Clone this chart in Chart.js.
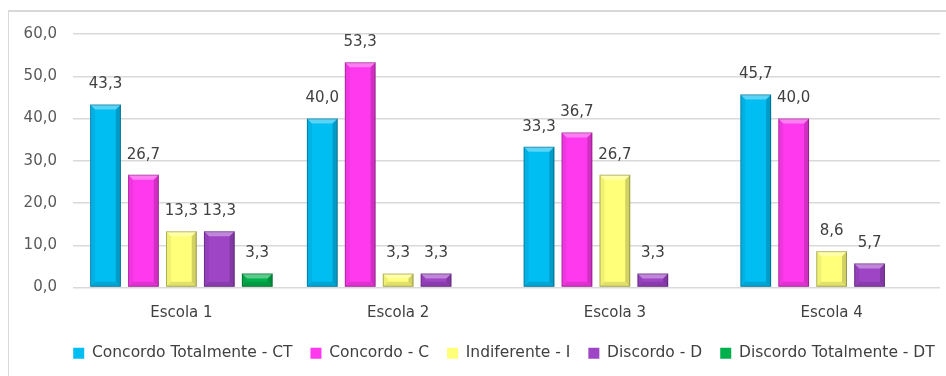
<!DOCTYPE html>
<html>
<head>
<meta charset="utf-8">
<script src="https://cdn.jsdelivr.net/npm/chart.js@4/dist/chart.umd.min.js"></script>
<style>
  html, body { margin: 0; padding: 0; background: #fff; }
  #wrap { position: relative; width: 946px; height: 376px; }
  #frame { position: absolute; left: 8px; top: 10px; right: 0; bottom: 0;
           border-left: 1px solid #d9d9d9; border-top: 2px solid #d9d9d9; }
  canvas { position: absolute; left: 0; top: 0; }
</style>
</head>
<body>
<div id="wrap">
  <div id="frame"></div>
  <canvas id="chart" width="946" height="376"></canvas>
</div>
<script>
const categories = ["Escola 1", "Escola 2", "Escola 3", "Escola 4"];
const seriesNames = [
    "Concordo Totalmente - CT",
    "Concordo - C",
    "Indiferente - I",
    "Discordo - D",
    "Discordo Totalmente - DT",
];
const concordoTotalmente = [43.3, 40.0, 33.3, 45.7];
const concordo = [26.7, 53.3, 36.7, 40.0];
const indiferente = [13.3, 3.3, 26.7, 8.6];
const discordo = [13.3, 3.3, 3.3, 5.7];
const discordoTotalmente = [3.3, null, null, null];
const yTicks = [0, 10, 20, 30, 40, 50, 60];

const colors = ["#00BDF2", "#FF3AEE", "#FFFF7A", "#9E45C6", "#00B04C"];
const FONT = "'DejaVu Sans', 'Open Sans', sans-serif";

const fmt = v => v.toFixed(1).replace(".", ",");

// bevel look + value labels, drawn over each bar element
const bevelPlugin = {
    id: "bevel",
    afterDatasetsDraw(chart) {
        const ctx = chart.ctx;
        chart.data.datasets.forEach((ds, i) => {
            const meta = chart.getDatasetMeta(i);
            meta.data.forEach((bar, j) => {
                const v = ds.data[j];
                if (v === null || v === undefined) return;
                const { x, y, base, width } = bar.getProps(["x", "y", "base", "width"], true);
                const l = x - width / 2, r = x + width / 2;
                const h = base - y;
                const b = Math.min(5, h / 2);
                ctx.save();
                // top bevel
                ctx.fillStyle = "rgba(255,255,255,0.35)";
                ctx.beginPath();
                ctx.moveTo(l, y); ctx.lineTo(r, y); ctx.lineTo(r - b, y + b); ctx.lineTo(l + b, y + b);
                ctx.closePath(); ctx.fill();
                // left edge
                ctx.fillStyle = "rgba(0,0,0,0.06)";
                ctx.beginPath();
                ctx.moveTo(l, y); ctx.lineTo(l + b, y + b); ctx.lineTo(l + b, base - b); ctx.lineTo(l, base);
                ctx.closePath(); ctx.fill();
                // right edge
                ctx.fillStyle = "rgba(0,0,0,0.18)";
                ctx.beginPath();
                ctx.moveTo(r, y); ctx.lineTo(r - b, y + b); ctx.lineTo(r - b, base - b); ctx.lineTo(r, base);
                ctx.closePath(); ctx.fill();
                // bottom edge
                ctx.fillStyle = "rgba(0,0,0,0.12)";
                ctx.beginPath();
                ctx.moveTo(l, base); ctx.lineTo(l + b, base - b); ctx.lineTo(r - b, base - b); ctx.lineTo(r, base);
                ctx.closePath(); ctx.fill();
                // outline
                ctx.strokeStyle = "rgba(0,0,0,0.28)";
                ctx.lineWidth = 1;
                ctx.strokeRect(l + 0.5, y + 0.5, width - 1, h - 1);
                // value label
                ctx.fillStyle = "#404040";
                ctx.font = "15px " + FONT;
                ctx.textAlign = "center";
                ctx.textBaseline = "middle";
                ctx.fillText(fmt(v), x, y - 20);
                ctx.restore();
            });
        });
    },
};

// the legend in the original sits a little right of centre and a bit higher
const legendShift = {
    id: "legendShift",
    afterLayout(chart) {
        if (chart.legend) {
            chart.legend.left += 34;
            chart.legend.right += 34;
            chart.legend.top -= 4;
            chart.legend.bottom -= 4;
        }
    },
};

const seriesValues = [concordoTotalmente, concordo, indiferente, discordo, discordoTotalmente];

new Chart(document.getElementById("chart").getContext("2d"), {
    type: "bar",
    data: {
        labels: categories,
        datasets: seriesValues.map((vals, i) => ({
            label: seriesNames[i],
            data: vals,
            backgroundColor: colors[i],
            borderWidth: 0,
            barPercentage: 0.81,
            categoryPercentage: 0.875,
        })),
    },
    options: {
        responsive: false,
        animation: false,
        devicePixelRatio: 1,
        layout: { padding: { left: 0, right: 6, top: 34, bottom: 1 } },
        plugins: {
            legend: {
                position: "bottom",
                labels: {
                    boxWidth: 11,
                    boxHeight: 11,
                    padding: 18,
                    color: "#404040",
                    font: { family: FONT, size: 15.5 },
                },
            },
            tooltip: { enabled: false },
        },
        scales: {
            x: {
                grid: { display: false },
                border: { display: false },
                ticks: { color: "#404040", font: { family: FONT, size: 15 }, padding: 9 },
                afterFit(scale) { scale.height = 44; },
            },
            y: {
                min: 0,
                max: 60,
                afterBuildTicks(scale) { scale.ticks = yTicks.map(v => ({ value: v })); },
                grid: { color: "#d9d9d9", lineWidth: 1.5, drawTicks: false },
                border: { display: false },
                ticks: {
                    color: "#595959",
                    font: { family: FONT, size: 15 },
                    padding: 16,
                    callback: v => fmt(v),
                },
                afterFit(scale) { scale.width = 73; },
            },
        },
    },
    plugins: [bevelPlugin, legendShift],
});
</script>
</body>
</html>
